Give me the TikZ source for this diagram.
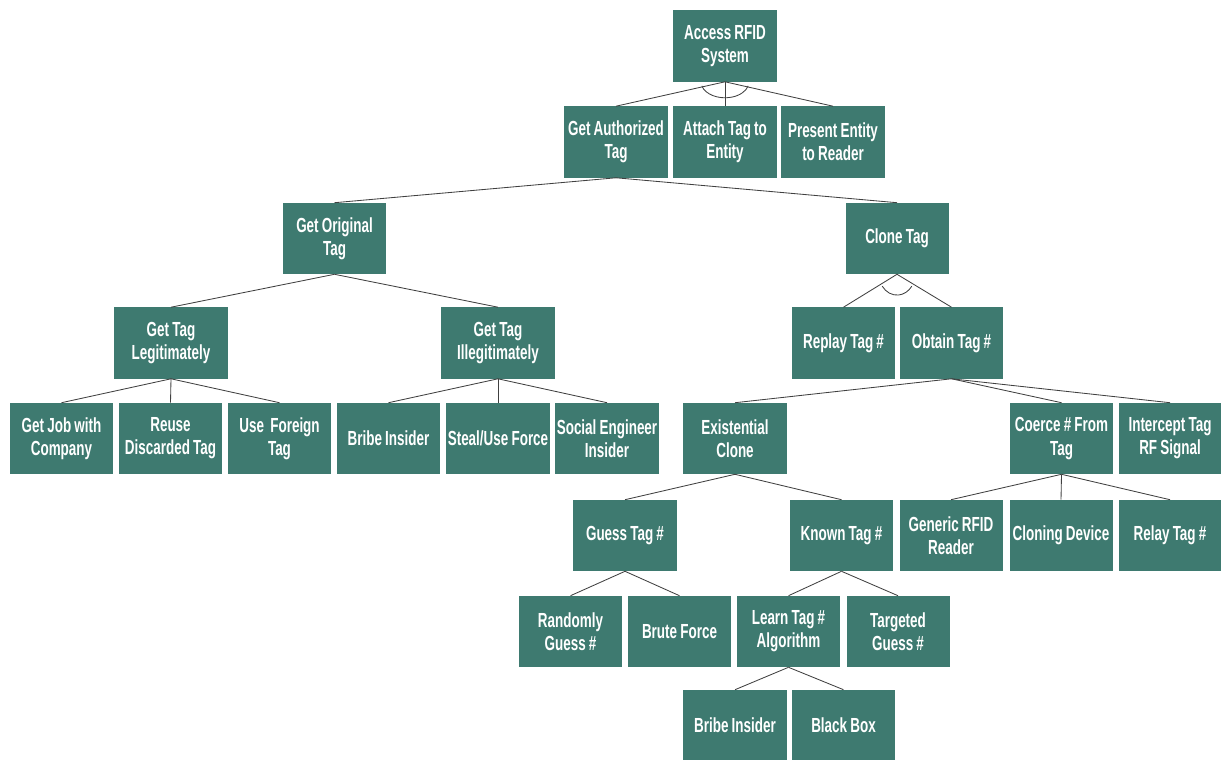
\documentclass[tikz,border=0pt]{standalone}
\usepackage{fontspec}
\newfontfamily\cajafont{Liberation Sans}[FakeStretch=0.66, WordSpace=0.85]
\usepackage{tikz}
\definecolor{verdeazul}{RGB}{62,122,112}

\begin{document}
\begin{tikzpicture}[x=0.025cm, y=-0.025cm,
    caja/.style={fill=verdeazul, text=white, font=\cajafont\bfseries\fontsize{14.5}{16.5}\selectfont,
        align=center, minimum width=2.575cm, minimum height=1.775cm, inner sep=0pt},
    ancha/.style={caja, minimum width=2.85cm},
    linea/.style={draw=black!75, line width=.6pt}]
    \useasboundingbox (0,0) rectangle (1221,760);
    % raiz
    \node [caja] (acc) at (725,46) {Access RFID\\System};
    % nivel 2
    \node [caja] (auth) at (616,142) {Get Authorized\\Tag};
    \node [caja] (attach) at (725,142) {Attach Tag to\\Entity};
    \node [caja] (present) at (833,142) {Present Entity\\to Reader};
    \node [caja] (orig) at (334.5,238.5) {Get Original\\Tag};
    \node [caja] (clone) at (897,238.5) {Clone Tag};
    % rama izquierda
    \node [ancha] (legit) at (171,343) {Get Tag\\Legitimately};
    \node [ancha] (illegit) at (498,343) {Get Tag\\Illegitimately};
    \node [caja] (job) at (61.5,438.5) {Get Job with\\Company};
    \node [caja] (reuse) at (170.5,438.5) {Reuse\\Discarded Tag};
    \node [caja] (foreign) at (279.5,438.5) {Use\ \ Foreign\\Tag};
    \node [caja] (bribea) at (388.5,438.5) {Bribe Insider};
    \node [caja] (steal) at (498,438.5) {Steal/Use Force};
    \node [caja] (social) at (607,438.5) {Social Engineer\\Insider};
    % rama derecha
    \node [caja] (replay) at (843.5,343) {Replay Tag \#};
    \node [caja] (obtain) at (951.5,343) {Obtain Tag \#};
    \node [caja] (exist) at (735,438.5) {Existential\\Clone};
    \node [caja] (coerce) at (1061.5,438.5) {Coerce \# From\\Tag};
    \node [caja] (intercept) at (1170,438.5) {Intercept Tag\\RF Signal};
    \node [caja] (guess) at (625,535.5) {Guess Tag \#};
    \node [caja] (known) at (841.5,535.5) {Known Tag \#};
    \node [caja] (generic) at (951,535.5) {Generic RFID\\Reader};
    \node [caja] (cloning) at (1061,535.5) {Cloning Device};
    \node [caja] (relay) at (1170,535.5) {Relay Tag \#};
    \node [caja] (random) at (570.5,631.5) {Randomly\\Guess \#};
    \node [caja] (brute) at (679.5,631.5) {Brute Force};
    \node [caja] (learn) at (788.5,631.5) {Learn Tag \#\\Algorithm};
    \node [caja] (targeted) at (898,631.5) {Targeted\\Guess \#};
    \node [caja] (bribeb) at (735,725.5) {Bribe Insider};
    \node [caja] (blackbox) at (843.5,725.5) {Black Box};
    % conectores
    \foreach \a/\b in {acc/auth, acc/attach, acc/present, auth/orig, auth/clone,
        orig/legit, orig/illegit, legit/job, legit/reuse, legit/foreign,
        illegit/bribea, illegit/steal, illegit/social, clone/replay, clone/obtain,
        obtain/exist, obtain/coerce, obtain/intercept, exist/guess, exist/known,
        coerce/generic, coerce/cloning, coerce/relay, guess/random, guess/brute,
        known/learn, known/targeted, learn/bribeb, learn/blackbox}
        \draw [linea] (\a.south) -- (\b.north);
    % arcos AND
    \draw [linea] (acc.south) ++(195:0.6cm and 0.4cm) arc [start angle=195, end angle=345, x radius=0.6cm, y radius=0.4cm];
    \draw [linea] (clone.south) ++(215:0.45cm and 0.52cm) arc [start angle=215, end angle=325, x radius=0.45cm, y radius=0.52cm];
\end{tikzpicture}
\end{document}
